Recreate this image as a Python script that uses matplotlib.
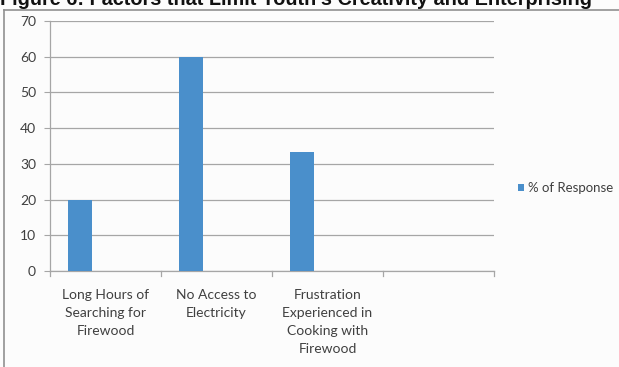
import matplotlib.pyplot as plt
from matplotlib.lines import Line2D

categories = ['Long Hours of\nSearching for\nFirewood',
              'No Access to\nElectricity',
              'Frustration\nExperienced in\nCooking with\nFirewood',
              '']
response = [20, 60, 33.3, None]
yticks = [0, 10, 20, 30, 40, 50, 60, 70]

title = "Figure 6: Factors that Limit Youth's Creativity and Enterprising"
bar_color = '#4a8fcb'
text_color = '#404040'
grid_color = '#a6a6a6'

W, H = 619, 367
fig = plt.figure(figsize=(W / 100, H / 100), dpi=100, facecolor='#fcfcfc')
ax = fig.add_axes([50 / W, (H - 271) / H, 444 / W, 250 / H])
ax.set_facecolor('#fcfcfc')

xs = [i for i, v in enumerate(response) if v is not None]
vals = [v for v in response if v is not None]
ax.bar([x - 0.23 for x in xs], vals, width=0.22, color=bar_color,
       label='% of Response', zorder=3)

ax.set_xlim(-0.5, len(categories) - 0.5)
ax.set_ylim(0, 70)
ax.set_yticks(yticks)
ax.set_yticklabels([str(t) for t in yticks], fontsize=10, color=text_color,
                   family='Lato')
ax.yaxis.grid(True, color=grid_color, linewidth=0.9, zorder=0)
ax.tick_params(axis='y', length=4, color=grid_color, pad=6)

# category labels in the middle, tick marks on the boundaries
ax.set_xticks(range(len(categories)))
ax.set_xticklabels(categories, fontsize=10, color=text_color, family='Lato',
                   linespacing=1.6)
ax.tick_params(axis='x', length=0, pad=13)
for b in [i - 0.5 for i in range(len(categories) + 1)]:
    ax.plot([b, b], [0, -1.3], color=grid_color, linewidth=0.9,
            clip_on=False, zorder=2)

for side in ['top', 'right']:
    ax.spines[side].set_visible(False)
for side in ['left', 'bottom']:
    ax.spines[side].set_color(grid_color)
    ax.spines[side].set_linewidth(0.9)

leg = ax.legend(loc='center left', bbox_to_anchor=(518 / W, (H - 188) / H),
                bbox_transform=fig.transFigure, frameon=False, borderpad=0,
                borderaxespad=0, handlelength=0.48, handleheight=0.48,
                handletextpad=0.25, prop={'family': 'Lato', 'size': 9.5})
for t in leg.get_texts():
    t.set_color(text_color)

# chart frame
fig.add_artist(Line2D([4 / W, 4 / W], [0, (H - 10) / H], color='#909090',
                      linewidth=1.2, transform=fig.transFigure))
fig.add_artist(Line2D([4 / W, 1], [(H - 10) / H, (H - 10) / H],
                      color='#909090', linewidth=1.2,
                      transform=fig.transFigure))

fig.text(0, (H - 5) / H, title, fontsize=14.3, fontweight='bold',
         family='Liberation Sans', color='#111111', va='baseline')

fig.savefig('out.png', dpi=100, facecolor=fig.get_facecolor())
